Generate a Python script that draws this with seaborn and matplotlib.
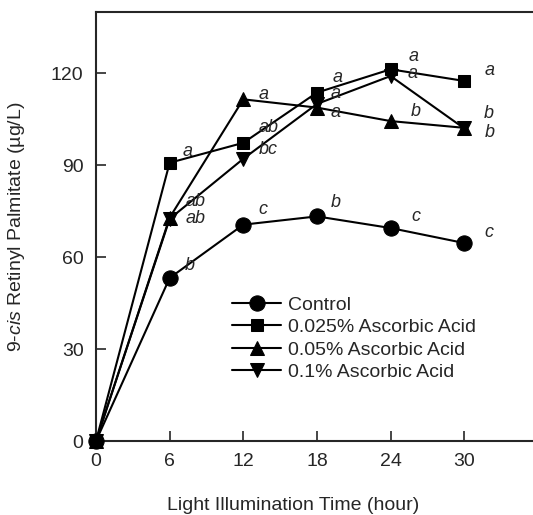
import matplotlib
matplotlib.use("Agg")
import matplotlib.pyplot as plt
import seaborn as sns
import pandas as pd

# ---- data ----
hours = [0, 6, 12, 18, 24, 30]
series_names = ["Control", "0.025% Ascorbic Acid", "0.05% Ascorbic Acid", "0.1% Ascorbic Acid"]
control = [0, 53.2, 70.6, 73.3, 69.5, 64.6]
aa_0025 = [0, 90.8, 97.3, 113.7, 121.3, 117.5]
aa_005 = [0, 72.9, 111.5, 108.8, 104.4, 102.2]
aa_01 = [0, 72.5, 92.1, 110.0, 119.1, 102.0]

# significance letters (one per time point after 0)
letters_control = ["b", "c", "b", "c", "c"]
letters_0025 = ["a", "ab", "a", "a", "a"]
letters_005 = ["ab", "a", "a", "b", "b"]
letters_01 = ["ab", "bc", "a", "a", "b"]

# ---- styling ----
markers = ["o", "s", "^", "v"]
marker_sizes = [11, 8.5, 9.5, 9.5]
# letter offsets from the marker in pixels (dx, dy) - layout only
letter_offsets = [
    [(20, 12), (20, 15), (19, 14), (25, 12), (25, 11)],
    [(18, 11), (25, 15), (21, 15), (23, 13), (25, 10)],
    [(26, 16), (20, 5), (19, -5), (25, 10), (24, 14)],
    [(26, 0), (25, 9), (19, 10), (22, 3), (25, -4)],
]

sns.set_style("ticks")
plt.rcParams["font.family"] = ["Liberation Sans", "DejaVu Sans"]
plt.rcParams["mathtext.fontset"] = "custom"
plt.rcParams["mathtext.rm"] = "Liberation Sans"
plt.rcParams["mathtext.it"] = "Liberation Sans:italic"

all_values = [control, aa_0025, aa_005, aa_01]
all_letters = [letters_control, letters_0025, letters_005, letters_01]

fig = plt.figure(figsize=(5.33, 5.15), dpi=100)
ax = fig.add_axes([96 / 533, 1 - 441 / 515, 437 / 533, 429 / 515])

for name, vals, mk, ms in zip(series_names, all_values, markers, marker_sizes):
    df = pd.DataFrame({"hour": hours, "value": vals})
    sns.lineplot(data=df, x="hour", y="value", ax=ax, color="black", marker=mk,
                 markersize=ms, markeredgecolor="black", linewidth=1.5,
                 label=name, clip_on=False, zorder=3)

for vals, letters, offs in zip(all_values, all_letters, letter_offsets):
    for h, v, txt, (dx, dy) in zip(hours[1:], vals[1:], letters, offs):
        ax.annotate(txt, (h, v), xytext=(dx, dy), textcoords="offset pixels",
                    ha="center", va="center", fontsize=13, style="italic")

ax.set_xlim(0, 35.6)
ax.set_ylim(0, 140)
ax.set_xticks([0, 6, 12, 18, 24, 30])
ax.set_yticks([0, 30, 60, 90, 120])
ax.tick_params(direction="in", length=7, width=1.2, labelsize=14, pad=9)
ax.spines["right"].set_visible(False)
for s in ["left", "bottom", "top"]:
    ax.spines[s].set_linewidth(1.5)

ax.set_xlabel("Light Illumination Time (hour)", fontsize=14)
ax.set_ylabel("9-$\\mathit{cis}$ Retinyl Palmitate (µg/L)", fontsize=14)
ax.xaxis.set_label_coords(0.452, -0.15)
ax.yaxis.set_label_coords(-0.181, 0.5)
ax.xaxis.label.set_va("center")
ax.yaxis.label.set_va("center")

ax.legend(loc="upper left", bbox_to_anchor=(0.312, 0.338), frameon=False,
          fontsize=14, handlelength=2.5, handletextpad=0.35, labelspacing=0.25,
          borderpad=0, borderaxespad=0)

fig.savefig("out.png", dpi=100)
